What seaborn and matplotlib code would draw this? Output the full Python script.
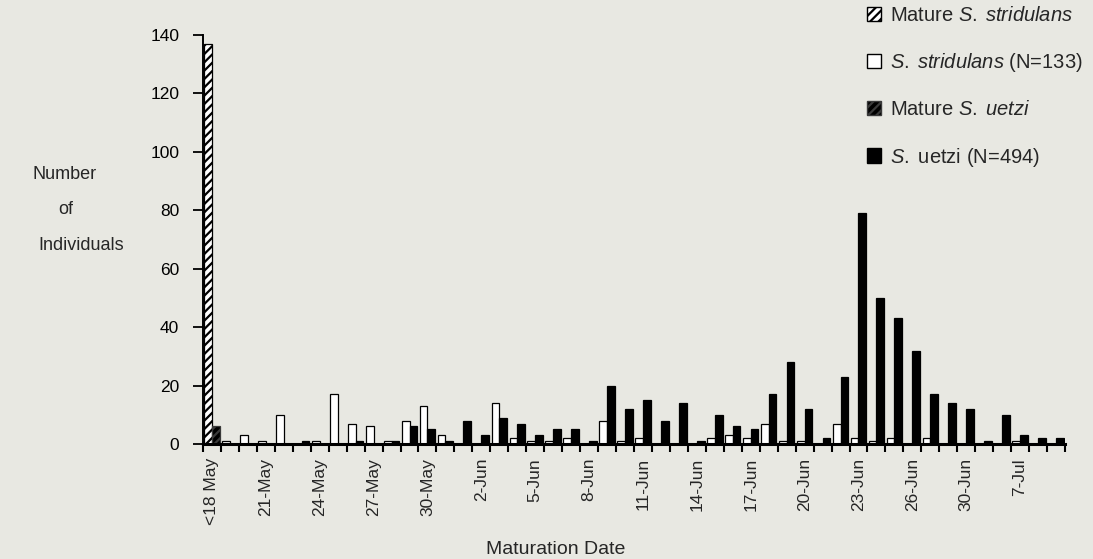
import matplotlib
matplotlib.use("Agg")
import matplotlib.pyplot as plt
from matplotlib.patches import Patch
import numpy as np
import pandas as pd
import seaborn as sns

# Maturation-date categories (one slot per sampling day); every third is labelled
tick_labels = ["<18 May", "21-May", "24-May", "27-May", "30-May", "2-Jun", "5-Jun", "8-Jun",
               "11-Jun", "14-Jun", "17-Jun", "20-Jun", "23-Jun", "26-Jun", "30-Jun", "7-Jul"]

# Individuals already mature before the first date (first slot only)
mature_stridulans = 137
mature_uetzi = 6

# Individuals maturing on each date
stridulans = [0, 1, 3, 1, 10, 0, 1, 17, 7, 6, 1, 8, 13, 3, 0, 0, 14, 2, 1, 1, 2, 0, 8, 1,
              2, 0, 0, 0, 2, 3, 2, 7, 1, 1, 0, 7, 2, 1, 2, 0, 2, 0, 0, 0, 0, 1, 0, 0]
uetzi = [0, 0, 0, 0, 0, 1, 0, 0, 1, 0, 1, 6, 5, 1, 8, 3, 9, 7, 3, 5, 5, 1, 20, 12,
         15, 8, 14, 1, 10, 6, 5, 17, 28, 12, 2, 23, 79, 50, 43, 32, 17, 14, 12, 1, 10, 3, 2, 2]

n_days = len(stridulans)
s_vals = list(stridulans)
u_vals = list(uetzi)
s_vals[0] = mature_stridulans
u_vals[0] = mature_uetzi

df = pd.DataFrame({
    "day": list(range(n_days)) * 2,
    "species": ["S. stridulans"] * n_days + ["S. uetzi"] * n_days,
    "count": s_vals + u_vals,
})

sns.set_theme(style="white")
plt.rcParams["font.family"] = ["Liberation Sans", "DejaVu Sans"]
plt.rcParams["mathtext.fontset"] = "custom"
plt.rcParams["mathtext.rm"] = "Liberation Sans"
plt.rcParams["mathtext.it"] = "Liberation Sans:italic"
plt.rcParams["hatch.linewidth"] = 1.6

bg = "#e8e8e2"
fig = plt.figure(figsize=(10.93, 5.59), dpi=100, facecolor=bg)
ax = fig.add_axes([0.1857, 0.2057, 0.7887, 0.7317])
ax.set_facecolor(bg)

sns.barplot(data=df, x="day", y="count", hue="species",
            palette={"S. stridulans": "white", "S. uetzi": "black"},
            edgecolor="black", linewidth=0.9, width=0.86, legend=False,
            saturation=1, ax=ax)

# first slot holds the already-mature individuals: hatched bars
s_bar = ax.containers[0][0]
s_bar.set_hatch("////")
s_bar.set_facecolor("white")
s_bar.set_edgecolor("black")
u_bar = ax.containers[1][0]
u_bar.set_hatch("////")
u_bar.set_facecolor("black")
u_bar.set_edgecolor("#3a3a3a")

ax.set_xlim(-0.5, n_days - 0.5)
ax.set_ylim(0, 140)
ax.set_yticks(np.arange(0, 141, 20))
ax.tick_params(axis="y", direction="out", length=7, width=1.3, labelsize=12.5,
               pad=10, colors="black", left=True)

# boundary ticks between slots, labels at every third slot
ax.set_xticks(np.arange(-0.5, n_days, 1.0))
ax.set_xticklabels([])
ax.tick_params(axis="x", which="major", direction="out", length=6, width=1.5,
               colors="black", bottom=True)
ax.set_xticks(np.arange(0, 3 * len(tick_labels), 3), minor=True)
ax.set_xticklabels(tick_labels, minor=True, rotation=90, fontsize=12.5)
ax.tick_params(axis="x", which="minor", length=0, pad=10)

for side in ["top", "right"]:
    ax.spines[side].set_visible(False)
ax.spines["left"].set_color("black")
ax.spines["left"].set_linewidth(1.4)
ax.spines["bottom"].set_color("black")
ax.spines["bottom"].set_linewidth(2.2)
ax.set_xlabel("")
ax.set_ylabel("")

for txt, x, y in [("Number", 65, 175), ("of", 66, 210), ("Individuals", 81, 245)]:
    fig.text(x / 1093, 1 - y / 559, txt, ha="center", va="center", fontsize=13)
fig.text(556 / 1093, 1 - 550 / 559, "Maturation Date", ha="center", va="center", fontsize=14)

handles = [
    Patch(facecolor="white", edgecolor="black", hatch="////"),
    Patch(facecolor="white", edgecolor="black"),
    Patch(facecolor="black", edgecolor="#3a3a3a", hatch="////"),
    Patch(facecolor="black", edgecolor="black"),
]
labels = [
    r"Mature $\mathit{S.\;stridulans}$",
    r"$\mathit{S.\;stridulans}$ (N=133)",
    r"Mature $\mathit{S.\;uetzi}$",
    r"$\mathit{S.}$ uetzi (N=494)",
]
fig.legend(handles, labels, loc="upper left", bbox_to_anchor=(863 / 1093, 1 - 2 / 559),
           frameon=False, fontsize=14.5, labelspacing=1.3, handlelength=0.7,
           handleheight=0.7, handletextpad=0.45, borderaxespad=0, borderpad=0.2)

fig.savefig("out.png", dpi=100, facecolor=bg)
